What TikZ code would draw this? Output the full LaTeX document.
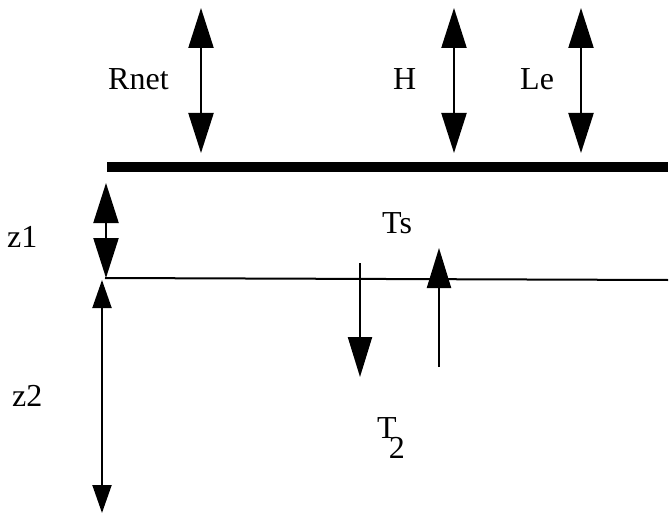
\documentclass[tikz,border=0pt]{standalone}
\usepackage{fontspec}
\setmainfont{Liberation Serif}
\usetikzlibrary{arrows.meta}
\begin{document}
\begin{tikzpicture}[x=1pt,y=-1pt,
  bigarrow/.style={line width=2.2pt,{Triangle[width=25pt,length=40pt]}-{Triangle[width=25pt,length=40pt]}},
  uparrow/.style={line width=2.2pt,-{Triangle[width=24pt,length=40pt]}},
  thinarrow/.style={line width=2pt,{Triangle[width=19pt,length=28pt]}-{Triangle[width=19pt,length=28pt]}},
  lbl/.style={font=\fontsize{32}{34}\selectfont, inner sep=0pt, anchor=base west}]
\useasboundingbox (0,0) rectangle (672,532);
% surface and layer boundary
\coordinate (s0) at (107,167); \coordinate (s1) at (668,167);
\draw[line width=10pt] (s0) -- (s1);
\coordinate (b0) at (105,278); \coordinate (b1) at (668,280);
\draw[line width=2pt] (b0) -- (b1);
% flux arrows
\coordinate (r0) at (201,8); \coordinate (r1) at (201,153);
\draw[bigarrow] (r0) -- (r1);
\coordinate (h0) at (454,8); \coordinate (h1) at (454,153);
\draw[bigarrow] (h0) -- (h1);
\coordinate (l0) at (581,8); \coordinate (l1) at (581,153);
\draw[bigarrow] (l0) -- (l1);
% depths
\coordinate (z10) at (106,183); \coordinate (z11) at (106,278);
\draw[bigarrow] (z10) -- (z11);
\coordinate (z20) at (102,280); \coordinate (z21) at (102,513);
\draw[thinarrow] (z20) -- (z21);
% heat flux arrows
\coordinate (d0) at (360,263); \coordinate (d1) at (360,377);
\draw[uparrow] (d0) -- (d1);
\coordinate (u0) at (439,367); \coordinate (u1) at (439,248);
\draw[uparrow] (u0) -- (u1);
% labels
\node[lbl] (rnet) at (108,90) {Rnet};
\node[lbl] (hl) at (393,90) {H};
\node[lbl] (le) at (520,90) {Le};
\node[lbl] (z1) at (7,247) {z1};
\node[lbl] (z2) at (12,406) {z2};
\node[lbl] (ts) at (382,233) {Ts};
\node[lbl] (t2) at (377,438) {T\kern-8pt\raisebox{-20pt}{2}};
\end{tikzpicture}
\end{document}
